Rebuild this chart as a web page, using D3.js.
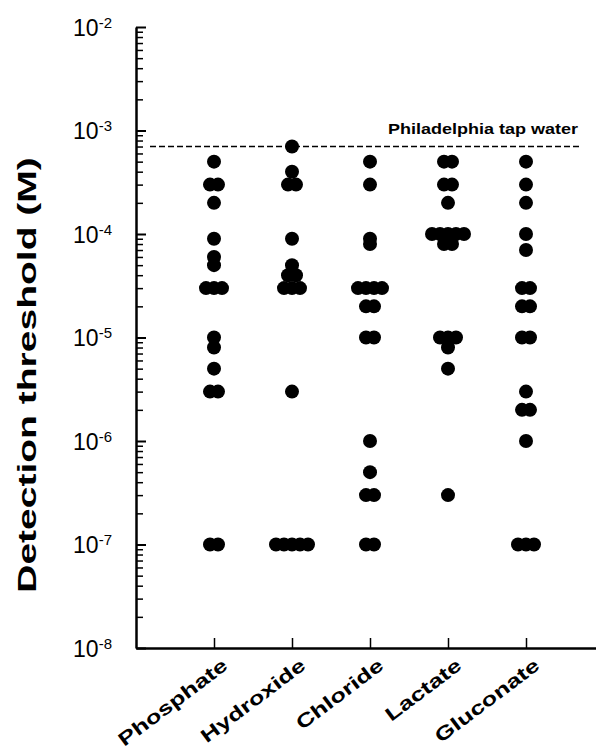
<!DOCTYPE html>
<html>
<head>
<meta charset="utf-8">
<script src="https://cdn.jsdelivr.net/npm/d3@7"></script>
<style>
  body { margin: 0; background: #fff; }
  svg { display: block; font-family: "Liberation Sans", Arial, Helvetica, sans-serif; }
</style>
</head>
<body>
<svg id="chart"></svg>
<script>
// detection thresholds (M), repeated values = several dots side by side
let categories = ["Phosphate", "Hydroxide", "Chloride", "Lactate", "Gluconate"];
let phosphate = [5e-4, 3e-4, 3e-4, 2e-4, 9e-5, 6e-5, 5e-5, 3e-5, 3e-5, 3e-5, 1e-5, 8e-6, 5e-6, 3e-6, 3e-6, 1e-7, 1e-7];
let hydroxide = [7e-4, 4e-4, 3e-4, 3e-4, 9e-5, 5e-5, 4e-5, 4e-5, 3e-5, 3e-5, 3e-5, 3e-6, 1e-7, 1e-7, 1e-7, 1e-7, 1e-7];
let chloride = [5e-4, 3e-4, 9e-5, 8e-5, 3e-5, 3e-5, 3e-5, 3e-5, 2e-5, 2e-5, 1e-5, 1e-5, 1e-6, 5e-7, 3e-7, 3e-7, 1e-7, 1e-7];
let lactate = [5e-4, 5e-4, 3e-4, 3e-4, 2e-4, 1e-4, 1e-4, 1e-4, 1e-4, 1e-4, 8e-5, 8e-5, 1e-5, 1e-5, 1e-5, 8e-6, 5e-6, 3e-7];
let gluconate = [5e-4, 3e-4, 2e-4, 1e-4, 7e-5, 3e-5, 3e-5, 2e-5, 2e-5, 1e-5, 1e-5, 3e-6, 2e-6, 2e-6, 1e-6, 1e-7, 1e-7, 1e-7];
let series = [phosphate, hydroxide, chloride, lactate, gluconate];

let tapWater = 7e-4;
let tapLabel = "Philadelphia tap water";
let yTicks = [1e-2, 1e-3, 1e-4, 1e-5, 1e-6, 1e-7, 1e-8];
let yTitle = "Detection threshold (M)";

let width = 596, height = 752;
let margin = {top: 27, left: 136, bottom: 104};

let svg = d3.select("#chart")
    .attr("width", width)
    .attr("height", height);

let y = d3.scaleLog()
    .domain([1e-8, 1e-2])
    .range([height - margin.bottom, margin.top]);

let x = d3.scalePoint()
    .domain(categories)
    .range([margin.left, 604])
    .padding(1);

// minor ticks
let minors = [];
for (let e = -8; e < -2; e++) {
    for (let m = 2; m <= 9; m++) minors.push(m * Math.pow(10, e));
}

svg.append("g")
    .attr("transform", "translate(" + margin.left + ",0)")
    .call(d3.axisLeft(y).tickValues(minors).tickSize(-7).tickFormat(""))
    .call(g => g.select(".domain").remove())
    .selectAll("line").attr("stroke", "#000").attr("stroke-width", 1.5);

let yAxis = svg.append("g")
    .attr("transform", "translate(" + margin.left + ",0)")
    .call(d3.axisLeft(y).tickValues(yTicks).tickSize(-10).tickSizeOuter(0).tickPadding(24));

yAxis.select(".domain").attr("stroke-width", 2.5);
yAxis.selectAll(".tick line").attr("stroke-width", 2);
yAxis.selectAll(".tick text")
    .attr("font-size", 23)
    .attr("fill", "#000")
    .attr("dy", "0.36em")
    .each(function (d) {
        let t = d3.select(this);
        t.text("10");
        t.append("tspan")
            .attr("dy", "-0.55em")
            .attr("font-size", 15)
            .text(Math.round(Math.log10(d)));
    });

let xAxis = svg.append("g")
    .attr("transform", "translate(0," + y(1e-8) + ")")
    .call(d3.axisBottom(x).tickSizeInner(-10).tickSizeOuter(0).tickFormat(""));

xAxis.select(".domain").attr("stroke-width", 2.5);
xAxis.selectAll(".tick line").attr("stroke-width", 1.5);

// the labels in the scan are drawn wide, so stretch them along their baseline
function stretch(sel, k) {
    sel.each(function () {
        let len = this.getComputedTextLength();
        d3.select(this)
            .attr("textLength", len * k)
            .attr("lengthAdjust", "spacingAndGlyphs");
    });
}

svg.selectAll(".cat_label")
    .data(categories)
    .enter()
    .append("text")
    .classed("cat_label", true)
    .attr("transform", d => "translate(" + (x(d) + 15) + ",668) rotate(-37)")
    .attr("text-anchor", "end")
    .attr("font-size", 19)
    .attr("font-weight", "bold")
    .text(d => d)
    .call(stretch, 1.35);

// tap water reference
svg.append("line")
    .attr("x1", 150)
    .attr("x2", 580)
    .attr("y1", y(tapWater))
    .attr("y2", y(tapWater))
    .attr("stroke", "#000")
    .attr("stroke-width", 1.5)
    .attr("stroke-dasharray", "6,3");

svg.append("text")
    .attr("x", 578)
    .attr("y", y(tapWater) - 13)
    .attr("text-anchor", "end")
    .attr("font-size", 15)
    .attr("font-weight", "bold")
    .text(tapLabel)
    .call(stretch, 1.2);

svg.append("text")
    .attr("transform", "translate(36,375) rotate(-90)")
    .attr("text-anchor", "middle")
    .attr("font-size", 26)
    .attr("font-weight", "bold")
    .text(yTitle)
    .call(stretch, 1.5);

// dots, equal values spread horizontally
let spacing = 8;
let dots = [];
series.forEach((vals, i) => {
    let counts = d3.rollup(vals, v => v.length, v => v);
    let seen = new Map();
    vals.forEach(v => {
        let n = counts.get(v);
        let k = seen.get(v) || 0;
        seen.set(v, k + 1);
        dots.push({cat: categories[i], value: v, offset: (k - (n - 1) / 2) * spacing});
    });
});

svg.selectAll(".dot")
    .data(dots)
    .enter()
    .append("circle")
    .classed("dot", true)
    .attr("cx", d => x(d.cat) + d.offset)
    .attr("cy", d => y(d.value))
    .attr("r", 7)
    .attr("fill", "#000");
</script>
</body>
</html>
